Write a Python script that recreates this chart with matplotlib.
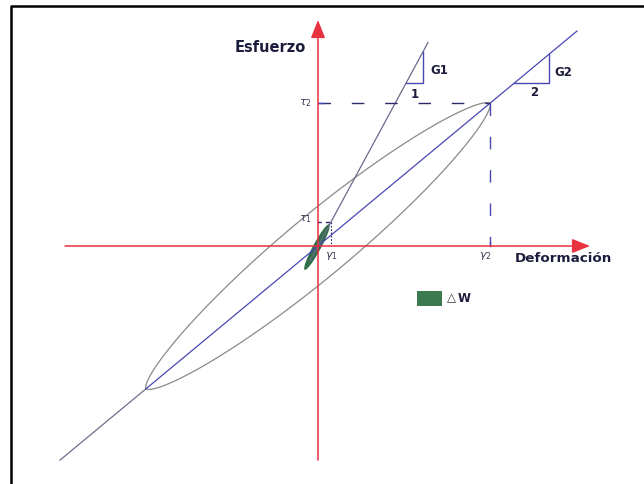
import numpy as np
import matplotlib.pyplot as plt
from matplotlib.patches import Ellipse, Rectangle

# shear moduli (slopes) and the two loading points
G1 = 1.85
G2 = 0.83
gamma1 = 13
tau1 = G1 * gamma1
gamma2 = 172
tau2 = G2 * gamma2

# extent of the drawn lines and axes
main_x = [-258, 259]
steep_x = [-8, 110]
xaxis_x = [-253, 272]
yaxis_y = [-214, 226]

# hysteresis loop half width and the small loop (Delta W)
loop_half = 31
dw_len = 52
dw_width = 8

# slope triangles: (y of base, x of vertical leg)
tri1 = (163, 105)
tri2 = (163, 231)

red = '#e8323f'
blue = '#4848b4'
grey = '#8a8a8a'
navy = '#1c1c3c'
green = '#2f6e48'

fig = plt.figure(figsize=(6.44, 4.84), dpi=100)
ax = fig.add_axes([0, 0, 1, 1])
ax.set_xlim(-318, 326)
ax.set_ylim(-238, 246)
ax.axis('off')

# frame
ax.plot([11 / 644, 11 / 644, 1.0], [0.0, 1 - 6 / 484, 1 - 6 / 484],
        transform=ax.transAxes, color='black', lw=1.8, solid_capstyle='butt')

# axes with arrows
head = '-|>,head_length=0.55,head_width=0.22'
ax.annotate('', xy=(xaxis_x[1], 0), xytext=(xaxis_x[0], 0),
            arrowprops=dict(arrowstyle=head, mutation_scale=20, color=red,
                            lw=1.1, shrinkA=0, shrinkB=0))
ax.annotate('', xy=(0, yaxis_y[1]), xytext=(0, yaxis_y[0]),
            arrowprops=dict(arrowstyle=head, mutation_scale=20, color=red,
                            lw=1.1, shrinkA=0, shrinkB=0))

# hysteresis loop between (-gamma2,-tau2) and (gamma2,tau2), slightly pointed ends
a = np.hypot(gamma2, tau2)
th = np.arctan2(tau2, gamma2)
u = np.linspace(-a, a, 400)
v = loop_half * (1 - (u / a) ** 2) ** 0.62
for s in (1, -1):
    ax.plot(u * np.cos(th) - s * v * np.sin(th),
            u * np.sin(th) + s * v * np.cos(th), color=grey, lw=0.9)

# G2 line: grey outside the loop, blue inside
xs = np.array([main_x[0], -gamma2])
ax.plot(xs, G2 * xs, color='#6e6e8a', lw=0.9)
xs = np.array([-gamma2, main_x[1]])
ax.plot(xs, G2 * xs, color=blue, lw=0.9)

# G1 line
xs = np.array(steep_x)
ax.plot(xs, G1 * xs, color='#6a6a8c', lw=0.9)

# small loop Delta W
ax.add_patch(Ellipse((-1, -1), dw_len, dw_width,
                     angle=np.degrees(np.arctan(G1)), color=green, lw=0))

# tau2 / gamma2 guides
ax.plot([0, gamma2], [tau2, tau2], color='#2a2a6a', lw=1.0, dashes=(9, 15))
ax.plot([0, 6], [tau2, tau2], color=blue, lw=1.0)
ax.plot([gamma2, gamma2], [tau2, 0], color=blue, lw=1.0, dashes=(9, 15))
ax.plot([gamma2, gamma2], [0, 4], color=blue, lw=1.0)

# tau1 / gamma1 guides
ax.plot([-1, gamma1], [tau1, tau1], color='#2a2a6a', lw=1.0, dashes=(3, 3))
ax.plot([gamma1, gamma1], [tau1, 0], color='#2a2a6a', lw=0.8, dashes=(1.5, 1.5))

# slope triangles
y0, x1 = tri1
ax.plot([y0 / G1, x1, x1], [y0, y0, G1 * x1], color=blue, lw=1.0)
y0, x1 = tri2
ax.plot([y0 / G2, x1, x1], [y0, y0, G2 * x1], color=blue, lw=1.0)

bold = dict(color=navy, fontweight='bold', family='DejaVu Sans')
ax.text(112, 176, 'G1', fontsize=8.5, va='center', ha='left', **bold)
ax.text(97, 152, '1', fontsize=8.5, va='center', ha='center', **bold)
ax.text(236, 174, 'G2', fontsize=8.5, va='center', ha='left', **bold)
ax.text(216, 154, '2', fontsize=8.5, va='center', ha='center', **bold)

ax.text(-48, 198, 'Esfuerzo', fontsize=10.5, va='center', ha='center', **bold)
ax.text(197, -13, 'Deformación', fontsize=9.7, va='center', ha='left', **bold)

sym = dict(color='#3a3a5a', fontsize=8, family='DejaVu Sans')
ax.text(-6, tau2, r'$\tau_2$', va='center', ha='right', **sym)
ax.text(-6, tau1 + 3, r'$\tau_1$', va='center', ha='right', **sym)
ax.text(gamma1, -10, r'$\gamma_1$', va='center', ha='center', **sym)
ax.text(gamma2 - 5, -10, r'$\gamma_2$', va='center', ha='center', **sym)

# legend for Delta W
ax.add_patch(Rectangle((99, -60), 25, 15, color='#3b7a4e', lw=0))
ax.text(129, -52, '△', fontsize=8.5, color='#333333', va='center', ha='left')
ax.text(140, -52, 'W', fontsize=8.5, va='center', ha='left', **bold)

fig.savefig('out.png', dpi=100)
